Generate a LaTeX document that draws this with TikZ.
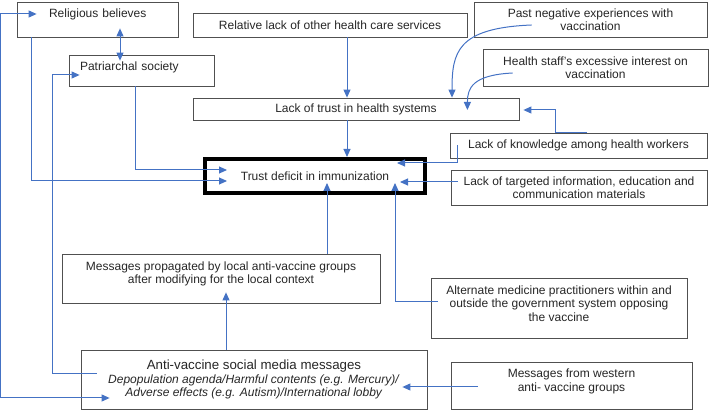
\documentclass[tikz,border=0pt]{standalone}
\usepackage{fontspec}
\setmainfont{Liberation Sans}
\usetikzlibrary{arrows.meta}
\definecolor{linkblue}{RGB}{68,114,196}
\definecolor{boxgray}{RGB}{80,80,80}
\tikzset{
  box/.style={draw=boxgray, line width=0.8pt, align=center, inner sep=3pt, text=black!85, font=\fontsize{12}{13.5}\selectfont},
  lift/.style={text depth=#1},
  link/.style={draw=linkblue, line width=1pt, ->},
  >={Triangle[length=8pt,width=7pt]}
}

\begin{document}
\begin{tikzpicture}[x=1pt,y=-1pt]
\useasboundingbox (0,0) rectangle (710,411);

%Top row
\node[box, minimum width=161pt, minimum height=35pt, text width=155pt, align=left, lift=13.5pt] (rel) at (97.5,19.5) {\hspace*{29pt}Religious believes};
\node[box, minimum width=145pt, minimum height=31pt, text width=139pt, align=left, lift=9.5pt] (patr) at (141.5,70.5) {\hspace*{8pt}Patriarchal society};
\node[box, minimum width=274pt, minimum height=24pt] (other) at (330,25) {Relative lack of other health care services};
\node[box, minimum width=233pt, minimum height=35pt] (past) at (590.5,19.5) {Past negative experiences with\\vaccination};
\node[box, minimum width=225pt, minimum height=37pt] (staff) at (595.5,67.5) {Health staff's excessive interest on\\vaccination};
\node[box, minimum width=326pt, minimum height=22pt] (trust) at (356,109) {Lack of trust in health systems};

%Middle
\node[box, minimum width=257pt, minimum height=25pt] (know) at (578.5,145.5) {Lack of knowledge among health workers};
\node[box, draw=black, line width=4pt, minimum width=220pt, minimum height=34pt] (deficit) at (315,176) {Trust deficit in immunization};
\node[box, minimum width=256pt, minimum height=35pt] (targ) at (579,187.5) {Lack of targeted information, education and\\communication materials};

%Bottom
\node[box, minimum width=318pt, minimum height=49pt, lift=11.5pt] (local) at (221,278.5) {Messages propagated by local anti-vaccine groups\\after modifying for the local context};
\node[box, minimum width=256pt, minimum height=60pt, lift=9.5pt] (alt) at (559,308) {Alternate medicine practitioners within and\\outside the government system opposing\\the vaccine};
\node[box, minimum width=346pt, minimum height=59pt] (social) at (254,379.5) {{\fontsize{13.3}{15}\selectfont Anti-vaccine social media messages}\\\textit{Depopulation agenda/Harmful contents (e.g. Mercury)/}\\\textit{Adverse effects (e.g. Autism)/International lobby}};
\node[box, minimum width=241pt, minimum height=47pt, lift=10.5pt] (west) at (571.5,385.5) {Messages from western\\anti- vaccine groups};

%Left side
\draw[link, <->] ([xshift=22.5pt,yshift=9pt]rel.south) -- ([xshift=-21.5pt,yshift=-6pt]patr.north);
\draw[link, <->] ([xshift=29pt,yshift=-18.5pt]social.west) -- ++(-109,0) |- ([xshift=20pt,yshift=5.5pt]rel.west);
\draw[link] ([xshift=16pt,yshift=5.5pt]social.west) -- ++(-44,0) |- ([xshift=11pt,yshift=-4.5pt]patr.west);
\draw[link] ([xshift=15pt]rel.south west) |- ([xshift=24pt,yshift=-5pt]deficit.west);
\draw[link] ([xshift=67pt]patr.south west) |- ([xshift=24pt,yshift=6pt]deficit.west);

%Health system
\draw[link] ([xshift=17pt]other.south) -- ([xshift=-9pt]trust.north);
\draw[link] ([xshift=-9pt]trust.south) -- ([xshift=32pt]deficit.north);
\draw[link] ([xshift=58pt,yshift=-5.5pt]past.west) .. controls +(-75,3) and +(0,-45) .. ([xshift=96pt]trust.north);
\draw[link] ([xshift=30pt,yshift=-5.5pt]staff.west) .. controls +(-40,2) and +(0,-22) .. ([xshift=-52pt,yshift=-1pt]trust.east);
\draw[link] ([xshift=8.5pt]know.north) -- ([xshift=-23.5pt]know.north) |- ([xshift=4pt,yshift=-1pt]trust.east);

%Right side
\draw[link] ([xshift=8pt]know.west) |- ([xshift=-30pt,yshift=13pt]deficit.east);
\draw[link] ([xshift=7pt,yshift=5.5pt]targ.west) -- ([xshift=-27pt,yshift=-6pt]deficit.east);
\draw[link] ([xshift=7pt,yshift=6pt]alt.west) -| ([xshift=80pt,yshift=12pt]deficit.south);
\draw[link] ([xshift=106pt]local.north) -- ([xshift=12pt,yshift=12pt]deficit.south);
\draw[link] ([xshift=-28pt]social.north) -- ([xshift=5pt,yshift=11pt]local.south);
\draw[link] ([xshift=27pt,yshift=-1.5pt]west.west) -- ([xshift=-25pt,yshift=-7.5pt]social.east);
\end{tikzpicture}
\end{document}
